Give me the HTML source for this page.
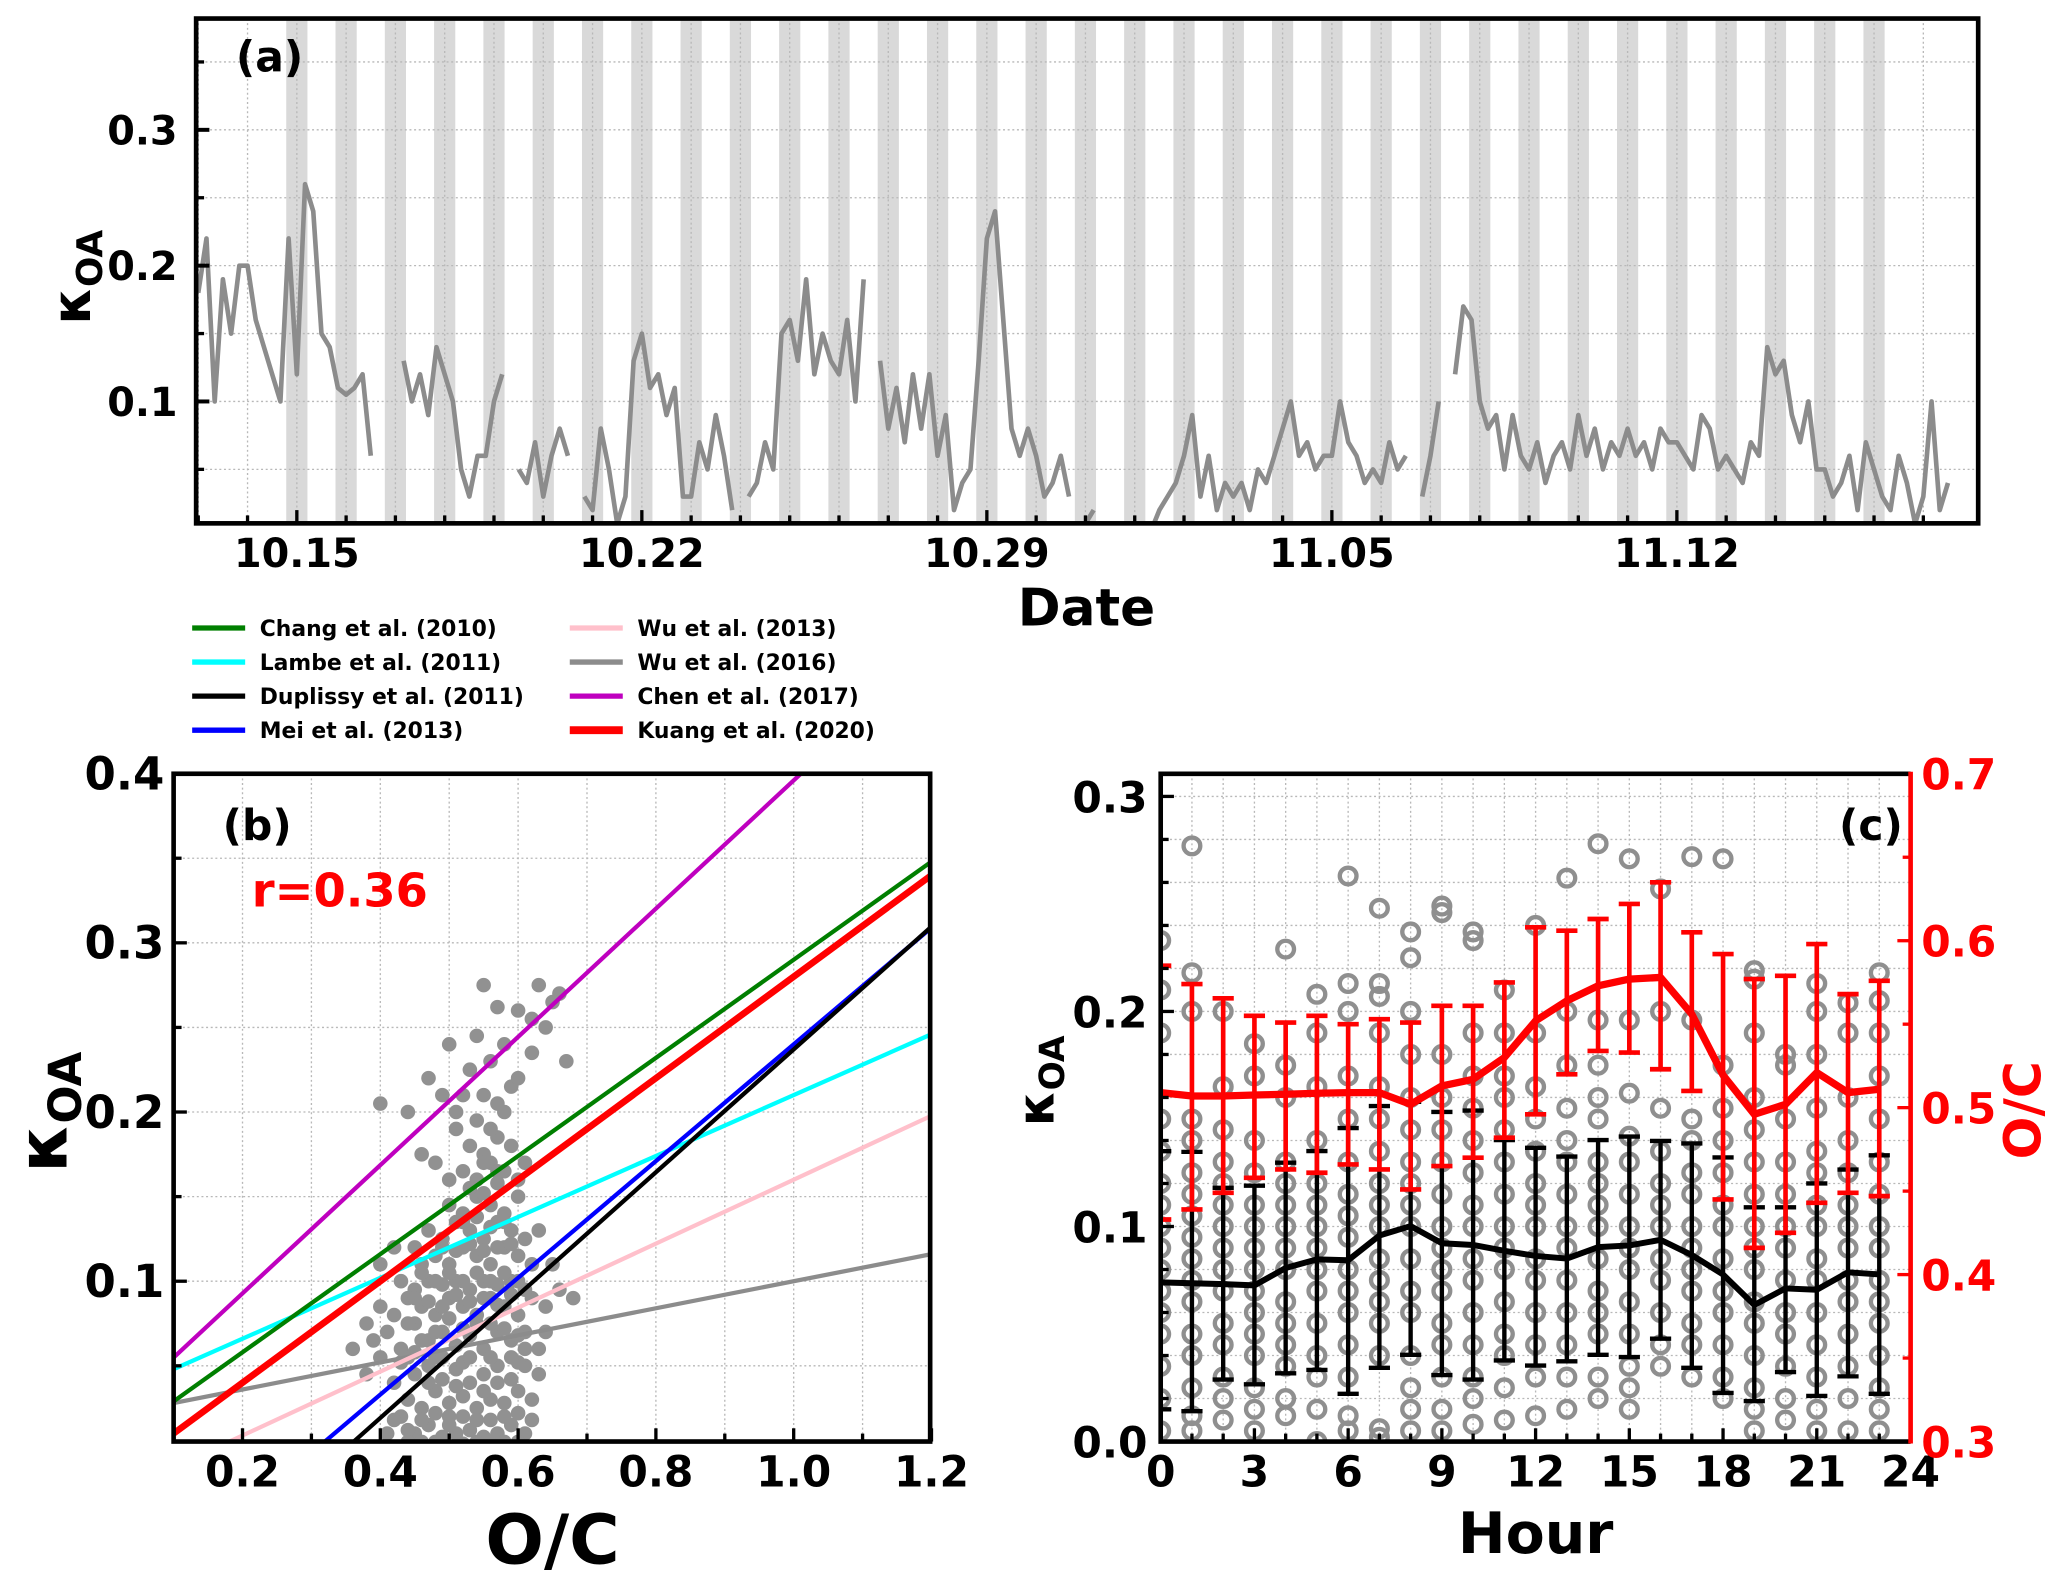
<!DOCTYPE html>
<html><head><meta charset="utf-8">
<style>
html,body{margin:0;padding:0;background:#fff;}
svg{display:block;font-family:"DejaVu Sans","Liberation Sans",sans-serif;font-weight:bold;}
</style></head>
<body>
<svg id="fig" xmlns="http://www.w3.org/2000/svg" width="2067" height="1578" viewBox="0 0 1560 1191">
<g id="pa"></g>
<g id="leg"></g>
<g id="pb"></g>
<g id="pc"></g>
</svg>
<script>
// ---------- Panel (a) data: kappa every 4 h starting Oct 13 00:00 ----------
const seriesA = [
0.18,0.22,0.10,0.19,0.15,0.20,
0.20,0.16,0.14,0.12,0.10,0.22,
0.12,0.26,0.24,0.15,0.14,0.11,
0.105,0.11,0.12,0.06,null,null,
null,0.13,0.10,0.12,0.09,0.14,
0.12,0.10,0.05,0.03,0.06,0.06,
0.10,0.12,null,0.05,0.04,0.07,
0.03,0.06,0.08,0.06,null,0.03,
0.02,0.08,0.05,0.01,0.03,0.13,
0.15,0.11,0.12,0.09,0.11,0.03,
0.03,0.07,0.05,0.09,0.06,0.02,
null,0.03,0.04,0.07,0.05,0.15,
0.16,0.13,0.19,0.12,0.15,0.13,
0.12,0.16,0.10,0.19,null,0.13,
0.08,0.11,0.07,0.12,0.08,0.12,
0.06,0.09,0.02,0.04,0.05,0.13,
0.22,0.24,0.16,0.08,0.06,0.08,
0.06,0.03,0.04,0.06,0.03,null,
0.01,0.02,null,0.01,0.005,null,
0.01,null,0.005,0.02,0.03,0.04,
0.06,0.09,0.03,0.06,0.02,0.04,
0.03,0.04,0.02,0.05,0.04,0.06,
0.08,0.10,0.06,0.07,0.05,0.06,
0.06,0.10,0.07,0.06,0.04,0.05,
0.04,0.07,0.05,0.06,null,0.03,
0.06,0.10,null,0.12,0.17,0.16,
0.10,0.08,0.09,0.05,0.09,0.06,
0.05,0.07,0.04,0.06,0.07,0.05,
0.09,0.06,0.08,0.05,0.07,0.06,
0.08,0.06,0.07,0.05,0.08,0.07,
0.07,0.06,0.05,0.09,0.08,0.05,
0.06,0.05,0.04,0.07,0.06,0.14,
0.12,0.13,0.09,0.07,0.10,0.05,
0.05,0.03,0.04,0.06,0.02,0.07,
0.05,0.03,0.02,0.06,0.04,0.01,
0.03,0.10,0.02,0.04];
const dateTicks = ["10.15","10.22","10.29","11.05","11.12"];
const yTicksA = [0.1,0.2,0.3];

// ---------- Panel (b) data ----------
const fitNames = ["Chang et al. (2010)","Lambe et al. (2011)","Duplissy et al. (2011)","Mei et al. (2013)","Wu et al. (2013)","Wu et al. (2016)","Chen et al. (2017)","Kuang et al. (2020)"];
const fitSlopes = [0.29,0.18,0.363,0.345,0.189,0.08,0.379,0.30];
const fitIntercepts = [0.0,0.03,-0.126,-0.105,-0.029,0.02,0.017,-0.02];
const ocScatter = [0.41,0.43,0.45,0.47,0.49,0.51,0.53,0.55,0.57,0.59,0.61,0.44,0.46,0.48,0.50,0.52,0.54,0.56,0.58,0.60,0.62,0.42,0.45,0.47,0.49,0.51,0.53,0.55,0.57,0.59,0.61,0.63,0.40,0.38,0.52,0.56,0.60,0.46,0.50,0.54,0.58,0.48,0.62,0.44,
0.39,0.41,0.43,0.45,0.47,0.49,0.51,0.53,0.55,0.57,0.59,0.61,0.63,0.40,0.42,0.44,0.46,0.48,0.50,0.52,0.54,0.56,0.58,0.60,0.62,0.64,0.43,0.45,0.47,0.49,0.51,0.53,0.55,0.57,0.59,0.61,0.66,0.68,0.36,0.38,0.44,0.48,0.52,0.56,0.60,0.64,
0.46,0.48,0.50,0.52,0.54,0.56,0.58,0.60,0.62,0.47,0.49,0.51,0.53,0.55,0.57,0.59,0.61,0.50,0.52,0.54,0.56,0.58,0.60,0.45,0.63,0.42,0.40,0.65,
0.50,0.52,0.54,0.56,0.58,0.60,0.53,0.55,0.57,0.59,0.54,0.56,0.58,0.61,0.48,0.51,0.46,
0.55,0.57,0.59,0.53,0.56,0.60,0.58,0.54,0.62,0.64,0.66,0.65,0.60,0.55,0.62,0.52,0.51,0.47,0.44,0.40,0.67,0.57,0.50,0.49,0.63,
0.42,0.44,0.46,0.48,0.50,0.52,0.54,0.56,0.58,0.60,0.43,0.45,0.47,0.49,0.51,0.53,0.55,0.57,0.59,0.61,0.44,0.46,0.48,0.50,0.52,0.54,0.56,0.58,0.60,0.45,0.47,0.49,0.51,0.53,0.55,0.57,0.59,0.46,0.48,0.50,0.52,0.54,0.56,0.58,0.60,0.49,0.51,0.53,0.55,0.57,0.59,0.52,0.54,0.56,0.58,0.53,0.55,0.57,0.55,0.57];
const kScatter = [0.01,0.02,0.01,0.015,0.008,0.01,0.012,0.008,0.01,0.015,0.01,0.03,0.025,0.035,0.028,0.032,0.025,0.03,0.028,0.035,0.03,0.04,0.045,0.05,0.042,0.048,0.04,0.045,0.05,0.042,0.05,0.045,0.055,0.045,0.02,0.018,0.022,0.005,0.02,0.005,0.005,0.022,0.018,0.012,
0.065,0.07,0.06,0.075,0.065,0.07,0.062,0.068,0.06,0.07,0.065,0.07,0.06,0.085,0.08,0.09,0.085,0.08,0.09,0.085,0.08,0.09,0.085,0.08,0.09,0.085,0.1,0.095,0.1,0.098,0.1,0.095,0.1,0.098,0.1,0.095,0.095,0.09,0.06,0.075,0.055,0.055,0.052,0.055,0.052,0.07,
0.11,0.115,0.11,0.12,0.115,0.11,0.12,0.115,0.11,0.13,0.125,0.135,0.13,0.125,0.135,0.13,0.125,0.145,0.14,0.15,0.145,0.14,0.15,0.12,0.13,0.12,0.11,0.11,
0.16,0.165,0.16,0.17,0.165,0.16,0.18,0.175,0.185,0.18,0.195,0.19,0.2,0.17,0.17,0.19,0.175,
0.21,0.205,0.215,0.225,0.23,0.22,0.24,0.245,0.235,0.25,0.27,0.265,0.26,0.275,0.255,0.21,0.20,0.22,0.20,0.205,0.23,0.262,0.24,0.21,0.275,
0.018,0.005,0.018,0.005,0.015,0.004,0.018,0.004,0.02,0.005,0.052,0.058,0.04,0.055,0.038,0.055,0.035,0.04,0.055,0.06,0.075,0.065,0.07,0.078,0.072,0.075,0.075,0.072,0.068,0.09,0.088,0.085,0.092,0.088,0.09,0.086,0.092,0.105,0.1,0.105,0.1,0.105,0.1,0.105,0.1,0.12,0.118,0.122,0.118,0.12,0.122,0.135,0.138,0.132,0.135,0.155,0.152,0.158,0.17,0.165];

// ---------- Panel (c) data ----------
const hours = [0,1,2,3,4,5,6,7,8,9,10,11,12,13,14,15,16,17,18,19,20,21,22,23];
const kMean = [0.074,0.0736,0.0732,0.0726,0.0807,0.0847,0.0843,0.0958,0.1002,0.0922,0.0914,0.0887,0.0863,0.0851,0.0904,0.0912,0.0938,0.0867,0.0777,0.0635,0.0712,0.0706,0.0787,0.0777];
const kUpper = [0.135,0.1347,0.118,0.119,0.1297,0.1351,0.1458,0.156,0.158,0.1533,0.1539,0.1402,0.1366,0.1325,0.1402,0.1418,0.1398,0.1386,0.1321,0.1089,0.1089,0.12,0.1265,0.1331];
const kLower = [0.015,0.0141,0.0288,0.0266,0.0317,0.0333,0.0222,0.0343,0.0403,0.0309,0.0288,0.0377,0.0353,0.0373,0.0403,0.0393,0.0478,0.0343,0.0226,0.0188,0.0323,0.0212,0.0303,0.0222];
const ocMean = [0.509,0.507,0.507,0.5076,0.508,0.5086,0.509,0.509,0.502,0.513,0.517,0.530,0.552,0.564,0.573,0.577,0.578,0.556,0.5195,0.496,0.502,0.521,0.509,0.511];
const ocUpper = [0.585,0.574,0.5655,0.555,0.551,0.555,0.550,0.553,0.551,0.561,0.561,0.575,0.608,0.606,0.613,0.622,0.635,0.605,0.592,0.577,0.579,0.598,0.568,0.576];
const ocLower = [0.433,0.439,0.449,0.458,0.463,0.461,0.466,0.463,0.451,0.465,0.470,0.482,0.496,0.520,0.534,0.533,0.523,0.510,0.445,0.416,0.425,0.443,0.449,0.447];
const hourlyK = [
[0.005,0.02,0.035,0.05,0.06,0.07,0.08,0.09,0.1,0.11,0.12,0.135,0.15,0.19,0.21,0.233],
[0.005,0.012,0.025,0.04,0.05,0.065,0.075,0.085,0.095,0.105,0.115,0.125,0.14,0.15,0.2,0.218,0.277],
[0.01,0.02,0.03,0.045,0.055,0.07,0.08,0.09,0.1,0.11,0.12,0.13,0.145,0.165,0.2],
[0.005,0.015,0.025,0.04,0.05,0.06,0.07,0.08,0.09,0.1,0.11,0.125,0.14,0.17,0.185],
[0.012,0.02,0.035,0.045,0.055,0.065,0.08,0.09,0.1,0.11,0.12,0.13,0.16,0.175,0.229],
[0.0,0.015,0.03,0.04,0.055,0.07,0.08,0.09,0.1,0.11,0.12,0.14,0.165,0.19,0.208],
[0.005,0.012,0.03,0.045,0.06,0.07,0.08,0.095,0.105,0.115,0.13,0.15,0.17,0.2,0.213,0.263],
[0.002,0.006,0.04,0.055,0.065,0.075,0.085,0.1,0.11,0.12,0.135,0.15,0.165,0.19,0.207,0.213,0.248],
[0.005,0.015,0.025,0.04,0.06,0.07,0.085,0.1,0.11,0.12,0.13,0.145,0.16,0.18,0.2,0.225,0.237],
[0.005,0.015,0.03,0.045,0.055,0.07,0.08,0.09,0.1,0.115,0.13,0.145,0.16,0.18,0.246,0.249],
[0.008,0.02,0.03,0.045,0.06,0.075,0.085,0.1,0.11,0.125,0.14,0.155,0.17,0.19,0.233,0.237],
[0.01,0.025,0.04,0.05,0.065,0.08,0.09,0.1,0.115,0.13,0.145,0.16,0.17,0.19,0.21],
[0.012,0.03,0.045,0.06,0.075,0.085,0.1,0.11,0.12,0.135,0.15,0.165,0.19,0.24],
[0.015,0.03,0.045,0.06,0.075,0.09,0.1,0.115,0.13,0.14,0.155,0.175,0.2,0.262],
[0.02,0.03,0.05,0.06,0.07,0.085,0.1,0.11,0.12,0.13,0.15,0.16,0.175,0.196,0.278],
[0.015,0.025,0.035,0.05,0.065,0.08,0.09,0.1,0.115,0.13,0.142,0.162,0.196,0.271],
[0.035,0.045,0.06,0.075,0.085,0.1,0.11,0.12,0.135,0.155,0.2,0.257],
[0.03,0.045,0.055,0.07,0.08,0.09,0.1,0.115,0.125,0.14,0.15,0.196,0.272],
[0.02,0.03,0.045,0.06,0.07,0.085,0.1,0.11,0.125,0.14,0.155,0.175,0.271],
[0.005,0.015,0.025,0.04,0.055,0.065,0.08,0.09,0.1,0.115,0.13,0.145,0.16,0.19,0.215,0.219],
[0.01,0.02,0.035,0.05,0.06,0.075,0.09,0.1,0.115,0.13,0.15,0.175,0.18],
[0.005,0.015,0.03,0.045,0.06,0.075,0.085,0.1,0.11,0.125,0.135,0.155,0.18,0.2,0.213],
[0.005,0.02,0.035,0.05,0.065,0.075,0.09,0.1,0.11,0.125,0.14,0.16,0.19,0.204],
[0.005,0.015,0.025,0.04,0.055,0.065,0.075,0.09,0.1,0.115,0.13,0.15,0.17,0.19,0.205,0.218]];

const NS = "http://www.w3.org/2000/svg";
function mk(parent, tag, attrs, txt){
  const e = document.createElementNS(NS, tag);
  for (const k in attrs) e.setAttribute(k, attrs[k]);
  if (txt !== undefined) e.textContent = txt;
  parent.appendChild(e);
  return e;
}
const GRID = {stroke:"#b8b8b8","stroke-width":1,"stroke-dasharray":"1.5,2"};

// ================= Panel (a) =================
(function(){
  const g = document.getElementById('pa');
  const L=148,R=1493,T=14,B=395;
  const dayPx = 37.2, x0 = 149.6;
  const X = d => x0 + d*dayPx;
  const Y = v => 405.5 - v*1025;
  const cp = mk(g,'clipPath',{id:'clipA'}); mk(cp,'rect',{x:L,y:T,width:R-L,height:B-T});
  for (let d=2; d<=34; d++){
    const b = mk(g,'rect',{x:X(d)-8,y:T,width:16,height:B-T,fill:"#d9d9d9"});
    
    
  }
  for (let d=0; d<=35; d++) mk(g,'line',Object.assign({x1:X(d),x2:X(d),y1:T,y2:B},GRID));
  for (let v=0.05; v<0.38; v+=0.05) mk(g,'line',Object.assign({x1:L,x2:R,y1:Y(v),y2:Y(v)},GRID));
  let d="", pen=false;
  seriesA.forEach((v,i)=>{
    if (v===null){pen=false;return;}
    const x=X(i/6), y=Y(v);
    d += (pen?"L":"M")+x.toFixed(1)+","+y.toFixed(1);
    pen=true;
  });
  const p = mk(g,'path',{d:d,fill:"none",stroke:"#8c8c8c","stroke-width":3.5,"stroke-linejoin":"round","clip-path":"url(#clipA)"});
  
  
  for (let dd=0; dd<=35; dd++){
    const major = (dd-2)%7===0;
    mk(g,'line',{x1:X(dd),x2:X(dd),y1:B,y2:B-(major?10:6),stroke:"#000","stroke-width":2.5});
  }
  dateTicks.forEach((t,i)=>{
    const tx = mk(g,'text',{x:X(2+7*i),y:428,"font-size":30,"text-anchor":"middle"},t);
    
    
  });
  for (let v=0.05; v<0.38; v+=0.05){
    mk(g,'line',{x1:L,x2:L+6,y1:Y(v),y2:Y(v),stroke:"#000","stroke-width":2.5});
  }
  yTicksA.forEach(v=>{
    mk(g,'line',{x1:L,x2:L+10,y1:Y(v),y2:Y(v),stroke:"#000","stroke-width":3});
    const tx = mk(g,'text',{x:L-14,y:Y(v)+11,"font-size":30,"text-anchor":"end"},v.toFixed(1));
    
    
  });
  mk(g,'rect',{x:L,y:T,width:R-L,height:B-T,fill:"none",stroke:"#000","stroke-width":3.5});
  const t1 = mk(g,'text',{x:178,y:54,"font-size":32},"(a)");
   
  const xl = mk(g,'text',{x:820,y:472,"font-size":39,"text-anchor":"middle"},"Date");
   
  const yl = mk(g,'text',{transform:"translate(68,245) rotate(-90)","font-size":40});
   
  mk(yl,'tspan',{},"κ"); mk(yl,'tspan',{"font-size":27,dy:9},"OA");
})();

// ================= Legend =================
const fitColors = ["#007f00","#00ffff","#000000","#0000ff","#ffc0cb","#8c8c8c","#bf00bf","#ff0000"];
(function(){
  const g = document.getElementById('leg');
  fitNames.forEach((n,i)=>{
    const col = i<4?0:1, row=i%4;
    const lx = col?430:145, ty = 474+row*25.7;
    const ln = mk(g,'line',{x1:lx,x2:lx+40,y1:ty,y2:ty,stroke:fitColors[i],"stroke-width":i===7?6:4});
     
    const t = mk(g,'text',{x:lx+51,y:ty+6,"font-size":16.5},n);
     
  });
})();

// ================= Panel (b) =================
(function(){
  const g = document.getElementById('pb');
  const L=131,R=702,T=584,B=1088;
  const X = v => 131 + (v-0.1)*520;
  const Y = v => 967 - (v-0.1)*1277;
  const cp = mk(g,'clipPath',{id:'clipB'}); mk(cp,'rect',{x:L,y:T,width:R-L,height:B-T});
  for (let v=0.1; v<=1.2001; v+=0.1) mk(g,'line',Object.assign({x1:X(v),x2:X(v),y1:T,y2:B},GRID));
  for (let v=0.05; v<=0.4001; v+=0.05) mk(g,'line',Object.assign({x1:L,x2:R,y1:Y(v),y2:Y(v)},GRID));
  const sg = mk(g,'g',{"clip-path":"url(#clipB)"});
  ocScatter.forEach((o,i)=>{
    const c = mk(sg,'circle',{cx:X(o),cy:Y(kScatter[i]),r:5.5,fill:"#919191"});
    
    
  });
  const lg = mk(g,'g',{"clip-path":"url(#clipB)"});
  const order=[5,4,1,3,2,0,6,7];
  order.forEach(i=>{
    const y1 = fitSlopes[i]*0.1+fitIntercepts[i], y2 = fitSlopes[i]*1.2+fitIntercepts[i];
    const l = mk(lg,'line',{x1:X(0.1),y1:Y(y1),x2:X(1.2),y2:Y(y2),stroke:fitColors[i],"stroke-width":i===7?5:3.2});
    
    
  });
  for (let v=0.1; v<=1.2001; v+=0.1){
    const maj = Math.round(v*10)%2===0;
    mk(g,'line',{x1:X(v),x2:X(v),y1:B,y2:B-(maj?10:6),stroke:"#000","stroke-width":2.5});
    if (maj){
      const t = mk(g,'text',{x:X(v),y:1122,"font-size":32,"text-anchor":"middle"},v.toFixed(1));
       
    }
  }
  for (let v=0.05; v<=0.4001; v+=0.05){
    const maj = Math.round(v*100)%10===0;
    mk(g,'line',{x1:L,x2:L+(maj?10:6),y1:Y(v),y2:Y(v),stroke:"#000","stroke-width":2.5});
    if (maj){
      const t = mk(g,'text',{x:124,y:Y(v)+12,"font-size":34,"text-anchor":"end"},v.toFixed(1));
       
    }
  }
  mk(g,'rect',{x:L,y:T,width:R-L,height:B-T,fill:"none",stroke:"#000","stroke-width":3.5});
  const pl = mk(g,'text',{x:168,y:634,"font-size":32},"(b)");
   
  const r = mk(g,'text',{x:190,y:684,"font-size":35,fill:"#ff0000"},"r=0.36");
   
  const xl = mk(g,'text',{x:417,y:1180,"font-size":52,"text-anchor":"middle"},"O/C");
   
  const yl = mk(g,'text',{transform:"translate(50,885) rotate(-90)","font-size":52});
   
  mk(yl,'tspan',{},"κ"); mk(yl,'tspan',{"font-size":34,dy:11},"OA");
})();

// ================= Panel (c) =================
(function(){
  const g = document.getElementById('pc');
  const L=876,R=1442,T=584,B=1088;
  const X = h => L + h*23.58;
  const Y = v => B - v*1623;
  const Y2 = v => B - (v-0.3)*1260;
  const cp = mk(g,'clipPath',{id:'clipC'}); mk(cp,'rect',{x:L,y:T,width:R-L,height:B-T});
  for (let h=1; h<24; h++) mk(g,'line',Object.assign({x1:X(h),x2:X(h),y1:T,y2:B},GRID));
  for (let v=0.02; v<0.31; v+=0.02) mk(g,'line',Object.assign({x1:L,x2:R,y1:Y(v),y2:Y(v)},GRID));
  const cg = mk(g,'g',{"clip-path":"url(#clipC)"});
  hourlyK.forEach((arr,h)=>{
    arr.forEach(v=>{
      const c = mk(cg,'circle',{cx:X(hours[h]),cy:Y(v),r:6.3,fill:"none",stroke:"#8f8f8f","stroke-width":3.3});
      
      
    });
  });
  hours.forEach((h,i)=>{
    const x=X(h);
    const e = mk(cg,'g',{stroke:"#000","stroke-width":3.3});
    
    
    mk(e,'line',{x1:x,x2:x,y1:Y(kLower[i]),y2:Y(kUpper[i])});
    mk(e,'line',{x1:x-8,x2:x+8,y1:Y(kLower[i]),y2:Y(kLower[i])});
    mk(e,'line',{x1:x-8,x2:x+8,y1:Y(kUpper[i]),y2:Y(kUpper[i])});
  });
  const km = mk(cg,'polyline',{points:hours.map((h,i)=>X(h)+","+Y(kMean[i])).join(" "),fill:"none",stroke:"#000","stroke-width":4.5,"stroke-linejoin":"round"});
   
  hours.forEach((h,i)=>{
    const x=X(h);
    const e = mk(cg,'g',{stroke:"#ff0000","stroke-width":3.5});
    
    
    mk(e,'line',{x1:x,x2:x,y1:Y2(ocLower[i]),y2:Y2(ocUpper[i])});
    mk(e,'line',{x1:x-8,x2:x+8,y1:Y2(ocLower[i]),y2:Y2(ocLower[i])});
    mk(e,'line',{x1:x-8,x2:x+8,y1:Y2(ocUpper[i]),y2:Y2(ocUpper[i])});
  });
  const om = mk(cg,'polyline',{points:hours.map((h,i)=>X(h)+","+Y2(ocMean[i])).join(" "),fill:"none",stroke:"#ff0000","stroke-width":5.5,"stroke-linejoin":"round"});
   
  for (let h=0; h<=24; h++){
    const maj = h%3===0;
    mk(g,'line',{x1:X(h),x2:X(h),y1:B,y2:B-(maj?10:6),stroke:"#000","stroke-width":2.5});
    if (maj){
      const t = mk(g,'text',{x:X(h),y:1122,"font-size":32,"text-anchor":"middle"},String(h));
       
    }
  }
  for (let k=0; k<=15; k++){
    const v=k*0.02;
    mk(g,'line',{x1:L,x2:L+(k%5===0?10:6),y1:Y(v),y2:Y(v),stroke:"#000","stroke-width":2.5});
  }
  [0,0.1,0.2,0.3].forEach(v=>{
    const t = mk(g,'text',{x:866,y:Y(v)+12,"font-size":32,"text-anchor":"end"},v.toFixed(1));
     
  });
  for (let k=0; k<=8; k++){
    const v=0.3+k*0.05;
    mk(g,'line',{x1:R,x2:R-(k%2===0?10:6),y1:Y2(v),y2:Y2(v),stroke:"#ff0000","stroke-width":2.5});
    if (k%2===0){
      const t = mk(g,'text',{x:1450,y:Y2(v)+12,"font-size":32,fill:"#ff0000"},v.toFixed(1));
       
    }
  }
  mk(g,'polyline',{points:`${R},${T} ${L},${T} ${L},${B} ${R},${B}`,fill:"none",stroke:"#000","stroke-width":3.5});
  mk(g,'line',{x1:R,x2:R,y1:T-1.5,y2:B+1.5,stroke:"#ff0000","stroke-width":3.5});
  const pl = mk(g,'text',{x:1388,y:634,"font-size":32},"(c)");
   
  const xl = mk(g,'text',{x:1159,y:1172,"font-size":43,"text-anchor":"middle"},"Hour");
   
  const yl = mk(g,'text',{transform:"translate(795,850) rotate(-90)","font-size":38});
   
  mk(yl,'tspan',{},"κ"); mk(yl,'tspan',{"font-size":26,dy:8},"OA");
  const yr = mk(g,'text',{transform:"translate(1540,838) rotate(-90)","font-size":38,fill:"#ff0000","text-anchor":"middle"},"O/C");
   
})();
</script>
</body></html>
